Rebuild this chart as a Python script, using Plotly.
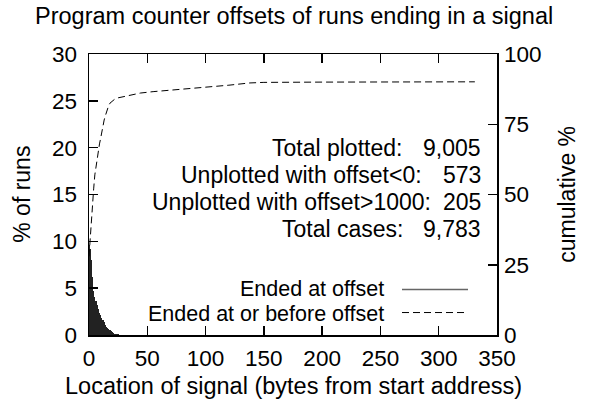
import plotly.graph_objects as go

# ---- data ----
hist_offsets = list(range(0, 31))
hist_pct = [9.6, 9.2, 8.0, 6.2, 4.7, 4.1, 3.6, 3.2, 2.8, 2.4, 2.1, 1.85, 1.6, 1.35, 1.05,
            0.9, 0.75, 0.6, 0.5, 0.4, 0.3, 0.22, 0.16, 0.12, 0.08, 0.06, 0.05, 0.04, 0.03, 0.03, 0.02]

cum_offsets = [0, 1, 2, 3, 4, 5, 6, 7, 8, 9, 10, 11, 12, 13, 14, 15, 16, 17, 18, 20, 22, 25, 30,
               44, 55, 80, 100, 120, 138, 150, 200, 250, 331]
cum_pct = [28, 35, 41, 47, 52, 57, 60, 63, 65.5, 68, 70, 72.5, 74.5, 76.5, 78, 79.5, 80.8, 81.8,
           82.5, 83.3, 83.9, 84.4, 84.9, 86.1, 86.6, 87.4, 88.1, 88.9, 89.7, 89.9, 90.0, 90.05, 90.1]

x_ticks = [0, 50, 100, 150, 200, 250, 300, 350]
y_ticks = [0, 5, 10, 15, 20, 25, 30]
y2_ticks = [0, 25, 50, 75, 100]

stat_labels = ["Total plotted:", "Unplotted with offset<0:", "Unplotted with offset>1000:", "Total cases:"]
stat_values = ["9,005", "573", "205", "9,783"]

legend_labels = ["Ended at offset", "Ended at or before offset"]

FONT = "Liberation Sans, Arial, sans-serif"
FS = 23
FS_TICK = 22.5
FS_LEG = 21.5

W, H = 589, 409
L, R, T, B = 89, 497, 54, 335.5


def px(xp):
    return (xp - L) / (R - L)


def py(yp):
    return (B - yp) / (B - T)


fig = go.Figure()
fig.add_trace(go.Bar(x=hist_offsets, y=hist_pct, width=0.9, marker=dict(color="#222222", line=dict(width=0)),
                     name=legend_labels[0], showlegend=False))
fig.add_trace(go.Scatter(x=cum_offsets, y=cum_pct, mode="lines", yaxis="y2",
                         line=dict(color="black", width=1, dash="7px,4px"),
                         name=legend_labels[1], showlegend=False))

tf = dict(size=FS, family=FONT, color="black")
tkf = dict(size=FS_TICK, family=FONT, color="black")
lf = dict(size=FS_LEG, family=FONT, color="black")
ann = []
ann.append(dict(text="Program counter offsets of runs ending in a signal", xref="paper", yref="paper",
                x=px(294), y=py(16), xanchor="center", yanchor="middle", showarrow=False,
                font=dict(size=23.5, family=FONT, color="black")))
ann.append(dict(text="Location of signal (bytes from start address)", xref="paper", yref="paper",
                x=px(293), y=py(387), xanchor="center", yanchor="middle", showarrow=False,
                font=dict(size=23.5, family=FONT, color="black")))
ann.append(dict(text="% of runs", xref="paper", yref="paper", textangle=-90,
                x=px(22), y=py(195), xanchor="center", yanchor="middle", showarrow=False, font=tf))
ann.append(dict(text="cumulative %", xref="paper", yref="paper", textangle=-90,
                x=px(567), y=py(195), xanchor="center", yanchor="middle", showarrow=False, font=tf))

label_right = [404, 424, 433, 405]
rows_y = [148, 175, 202, 229]
for lab, val, lr, ry in zip(stat_labels, stat_values, label_right, rows_y):
    ann.append(dict(text=lab, xref="paper", yref="paper", x=px(lr), y=py(ry), xanchor="right",
                    yanchor="middle", showarrow=False, font=tf))
    ann.append(dict(text=val, xref="paper", yref="paper", x=px(483), y=py(ry), xanchor="right",
                    yanchor="middle", showarrow=False, font=tf))

leg_y = [289, 314]
for lab, ly in zip(legend_labels, leg_y):
    ann.append(dict(text=lab, xref="paper", yref="paper", x=px(386), y=py(ly), xanchor="right",
                    yanchor="middle", showarrow=False, font=lf))

shapes = [
    dict(type="line", xref="paper", yref="paper", x0=px(402), x1=px(468), y0=py(290), y1=py(290),
         line=dict(color="#666666", width=1.5)),
    dict(type="line", xref="paper", yref="paper", x0=px(402), x1=px(468), y0=py(313), y1=py(313),
         line=dict(color="black", width=1, dash="7px,4px")),
]

fig.update_layout(
    width=W, height=H,
    margin=dict(l=L, r=W - R, t=T, b=H - B, pad=0),
    paper_bgcolor="white", plot_bgcolor="white",
    showlegend=False,
    bargap=0,
    annotations=ann,
    shapes=shapes,
    xaxis=dict(range=[0, 350], tickvals=x_ticks, ticks="inside", ticklen=9, tickwidth=1.5, tickcolor="black",
               showline=True, linewidth=1.5, linecolor="black", mirror="ticks", showgrid=False, zeroline=False,
               tickfont=tkf, ticklabelstandoff=2),
    yaxis=dict(range=[0, 30], tickvals=y_ticks, ticks="inside", ticklen=9, tickwidth=1.5, tickcolor="black",
               showline=True, linewidth=1.5, linecolor="black", mirror=True, showgrid=False, zeroline=False,
               tickfont=tkf, ticklabelstandoff=6),
    yaxis2=dict(range=[0, 100], tickvals=y2_ticks, ticks="inside", ticklen=9, tickwidth=1.5, tickcolor="black",
                overlaying="y", side="right", showline=False, showgrid=False, zeroline=False,
                tickfont=tkf, ticklabelstandoff=6),
)

fig.write_html("out.html", config={"displayModeBar": False, "staticPlot": True},
               post_script="document.body.style.margin='0px';document.body.style.overflow='hidden';")
